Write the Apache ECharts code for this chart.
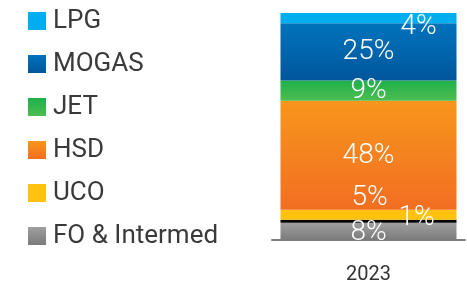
<!DOCTYPE html>
<html><head><meta charset="utf-8">
<script src="https://cdn.jsdelivr.net/npm/echarts@6/dist/echarts.min.js"></script>
<style>html,body{margin:0;padding:0;background:#fff}#c{width:467px;height:285px}</style>
</head><body><div id="c"></div>
<script>
const categories = ['2023'];
// bottom to top stacking order
const seriesNames = ['FO & Intermed', 'Other', 'UCO', 'HSD', 'JET', 'MOGAS', 'LPG'];
const seriesValues = [7.6, 1.3, 4.4, 48.0, 9.0, 25.2, 4.5];
const seriesLabels = ['8%', '1%', '5%', '48%', '9%', '25%', '4%'];
const legendOrder = ['LPG', 'MOGAS', 'JET', 'HSD', 'UCO', 'FO & Intermed'];

const colorTop = ['#a0a0a0', '#000000', '#ffc20e', '#f7961c', '#1fb04b', '#0073bd', '#00aeef'];
const colorBot = ['#7a7a7a', '#000000', '#ffc20e', '#f26e22', '#4dbd50', '#00569a', '#00aeef'];
const labelOffsets = [[0, 2], [48, -3], [1, -17], [0, 1], [0, 0], [0, 0], [50, 9]];

function grad(a, b) {
  return { type: 'linear', x: 0, y: 0, x2: 0, y2: 1, colorStops: [{ offset: 0, color: a }, { offset: 1, color: b }] };
}

const series = seriesNames.map((n, i) => ({
  name: n,
  type: 'bar',
  stack: 'total',
  barWidth: 176,
  data: [seriesValues[i]],
  itemStyle: { color: grad(colorTop[i], colorBot[i]) },
  label: {
    show: true,
    position: 'inside',
    offset: labelOffsets[i],
    formatter: () => seriesLabels[i],
    color: '#ffffff',
    fontFamily: 'Roboto',
    fontWeight: 300,
    fontSize: 28
  },
  emphasis: { disabled: true }
}));

const chart = echarts.init(document.getElementById('c'), null, { renderer: 'canvas' });
chart.setOption({
  animation: false,
  backgroundColor: '#ffffff',
  legend: {
    orient: 'vertical',
    left: 23,
    top: 3,
    itemWidth: 18,
    itemHeight: 18,
    itemGap: 17,
    icon: 'rect',
    data: legendOrder,
    textStyle: { fontFamily: 'Roboto', fontSize: 26, color: '#3a3a3a', padding: [0, 0, 0, 2] }
  },
  grid: { left: 272, right: 2, top: 13, bottom: 43 },
  xAxis: {
    type: 'category',
    data: categories,
    axisLine: { lineStyle: { color: '#7f7f7f', width: 2 } },
    axisTick: { show: false },
    axisLabel: { fontFamily: 'Roboto', fontSize: 20, color: '#333', margin: 25 }
  },
  yAxis: { type: 'value', min: 0, max: 100, show: false },
  series: series
});
</script></body></html>
